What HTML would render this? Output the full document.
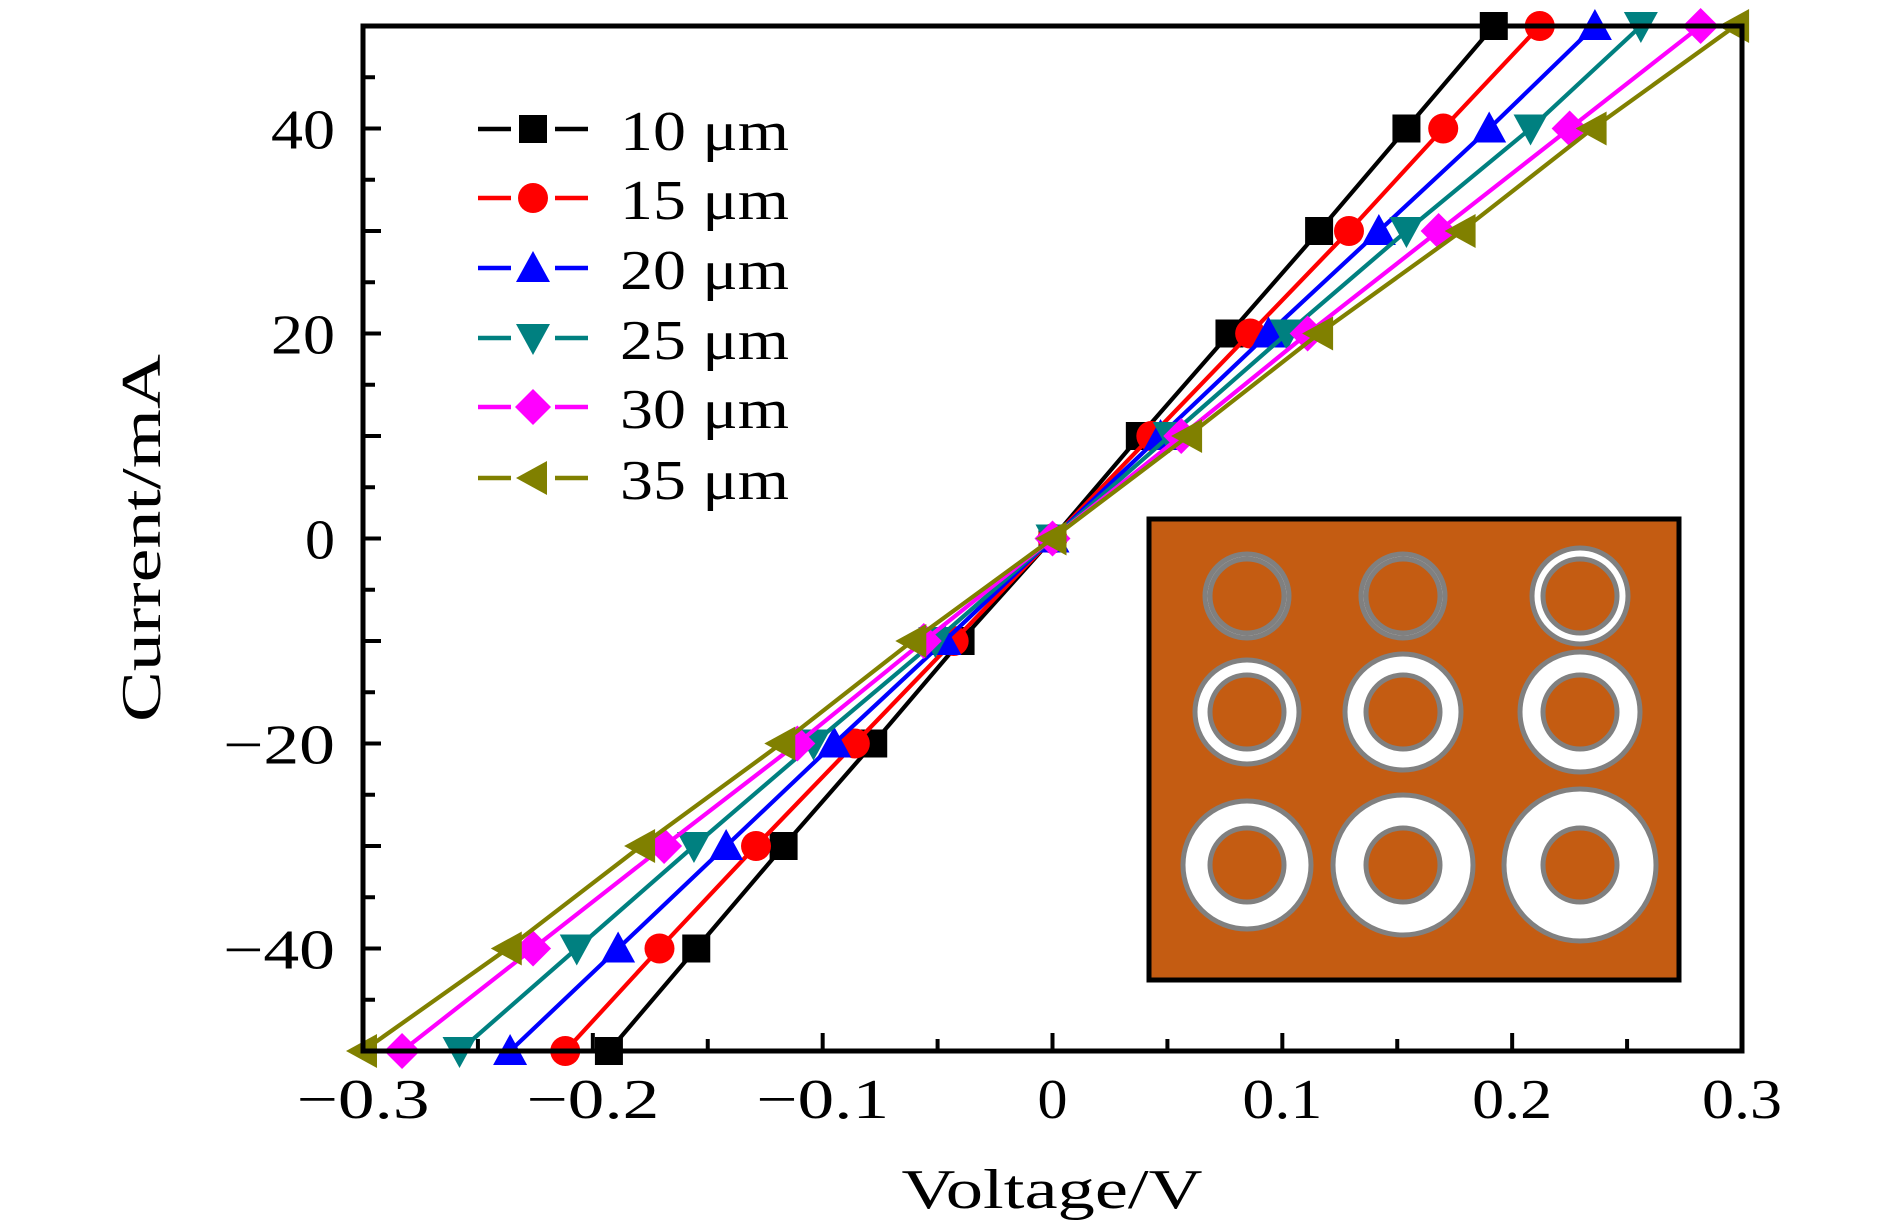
<!DOCTYPE html>
<html><head><meta charset="utf-8"><style>
html,body{margin:0;padding:0;background:#fff;}
svg{display:block;font-family:"Liberation Serif",serif;}
</style></head><body>
<svg id="chart" width="1890" height="1229" viewBox="0 0 1890 1229"></svg>
<script>
const seriesNames = ["10 μm","15 μm","20 μm","25 μm","30 μm","35 μm"];
const currents = [-50,-40,-30,-20,-10,0,10,20,30,40,50];
const v10 = [-0.193,-0.155,-0.117,-0.078,-0.040,0,0.038,0.077,0.116,0.154,0.192];
const v15 = [-0.212,-0.171,-0.129,-0.086,-0.043,0,0.043,0.086,0.129,0.170,0.212];
const v20 = [-0.236,-0.189,-0.142,-0.095,-0.047,0,0.047,0.094,0.142,0.190,0.236];
const v25 = [-0.258,-0.207,-0.156,-0.104,-0.051,0,0.051,0.102,0.154,0.208,0.256];
const v30 = [-0.283,-0.226,-0.169,-0.111,-0.056,0,0.056,0.111,0.168,0.225,0.282];
const v35 = [-0.300,-0.237,-0.179,-0.118,-0.061,0,0.059,0.116,0.178,0.235,0.297];
const xTickLabels = [-0.3,-0.2,-0.1,0,0.1,0.2,0.3];
const yTickLabels = [-40,-20,0,20,40];
const colors = ["#000000","#ff0000","#0000ff","#008080","#ff00ff","#808000"];
const markers = ["square","circle","up","down","diamond","left"];
const allV = [v10,v15,v20,v25,v30,v35];

const NS="http://www.w3.org/2000/svg";
const svg=document.getElementById('chart');
const L=363,R=1742,T=26,B=1051;
const X=v=>L+(v+0.3)/0.6*(R-L);
const Y=c=>B-(c+50)/100*(B-T);
function mk(tag,attrs,parent){const e=document.createElementNS(NS,tag);for(const k in attrs)e.setAttribute(k,attrs[k]);(parent||svg).appendChild(e);return e;}

// ticks
const ticks=mk('g',{});


for(let i=-6;i<=6;i++){const v=i*0.05;const x=X(v);const len=(i%2===0)?18:12;
  mk('line',{x1:x,x2:x,y1:B,y2:B-len,stroke:'#000','stroke-width':4},ticks);}
for(let c=-45;c<=45;c+=5){const y=Y(c);const len=(c%10===0)?18:12;
  mk('line',{x1:L,x2:L+len,y1:y,y2:y,stroke:'#000','stroke-width':4},ticks);}
// tick labels
xTickLabels.forEach(v=>{const t=mk('text',{x:X(v),y:1118,'font-size':56,'text-anchor':'middle',lengthAdjust:'spacingAndGlyphs',textLength:v===0?30:(v<0?133:80)});
  
  
  t.textContent=v===0?"0":(v<0?"\u2212":"")+Math.abs(v).toFixed(1);});
yTickLabels.forEach(c=>{const t=mk('text',{x:335,y:Y(c)+20,'font-size':56,'text-anchor':'end',lengthAdjust:'spacingAndGlyphs',textLength:c===0?30:(c<0?112:64)});
  
  
  t.textContent=c===0?"0":(c<0?"\u2212":"")+Math.abs(c);});
// titles
const xt=mk('text',{x:1052,y:1208,'font-size':56,'text-anchor':'middle',lengthAdjust:'spacingAndGlyphs',textLength:301});


xt.textContent="Voltage/V";
const yt=mk('text',{x:0,y:0,'font-size':56,'text-anchor':'middle',lengthAdjust:'spacingAndGlyphs',textLength:368,transform:'translate(160,538) rotate(-90)'});


yt.textContent="Current/mA";

function marker(type,x,y,color,parent){const s=14;let e;
  if(type==='square')e=mk('rect',{x:x-s,y:y-s,width:2*s,height:2*s,fill:color},parent);
  else if(type==='circle')e=mk('circle',{cx:x,cy:y,r:s+1,fill:color},parent);
  else if(type==='up')e=mk('polygon',{points:`${x},${y-17} ${x+17},${y+14} ${x-17},${y+14}`,fill:color},parent);
  else if(type==='down')e=mk('polygon',{points:`${x},${y+17} ${x+17},${y-14} ${x-17},${y-14}`,fill:color},parent);
  else if(type==='diamond')e=mk('polygon',{points:`${x},${y-18} ${x+18},${y} ${x},${y+18} ${x-18},${y}`,fill:color},parent);
  else e=mk('polygon',{points:`${x-17},${y} ${x+14},${y-17} ${x+14},${y+17}`,fill:color},parent);
  return e;}

// inset
const inset=mk('g',{});


mk('rect',{x:1149,y:519,width:530,height:461,fill:'#c45c12',stroke:'#000','stroke-width':5},inset);
const cx=[1247,1403,1580];
const rows=[[596,[42,42,48]],[712,[52,58,60]],[865,[64,70,76]]];
rows.forEach(([cy,ros])=>{ros.forEach((ro,i)=>{
  mk('circle',{cx:cx[i],cy:cy,r:ro,fill:'#fff',stroke:'#808080','stroke-width':5},inset);
  mk('circle',{cx:cx[i],cy:cy,r:37,fill:'#c45c12',stroke:'#808080','stroke-width':5},inset);});});

// series
allV.forEach((vs,si)=>{
  const g=mk('g',{});
  
  
  const pts=vs.map((v,i)=>X(v)+','+Y(currents[i])).join(' ');
  mk('polyline',{points:pts,fill:'none',stroke:colors[si],'stroke-width':4.2},g);
  vs.forEach((v,i)=>{const m=marker(markers[si],X(v),Y(currents[i]),colors[si],g);
    
    });
});

// frame
const fr=mk('rect',{x:L,y:T,width:R-L,height:B-T,fill:'none',stroke:'#000','stroke-width':5});



// legend
const lg=mk('g',{});


const ly=[129,198,268,338,407,478];
seriesNames.forEach((n,i)=>{
  const e=mk('g',{},lg);
  
  
  mk('line',{x1:478,x2:511,y1:ly[i],y2:ly[i],stroke:colors[i],'stroke-width':4.5},e);
  mk('line',{x1:555,x2:588,y1:ly[i],y2:ly[i],stroke:colors[i],'stroke-width':4.5},e);
  marker(markers[i],533,ly[i],colors[i],e);
  const t=mk('text',{x:620,y:ly[i]+21,'font-size':56,lengthAdjust:'spacingAndGlyphs',textLength:169},e);
  t.textContent=n;
});
</script>
</body></html>
